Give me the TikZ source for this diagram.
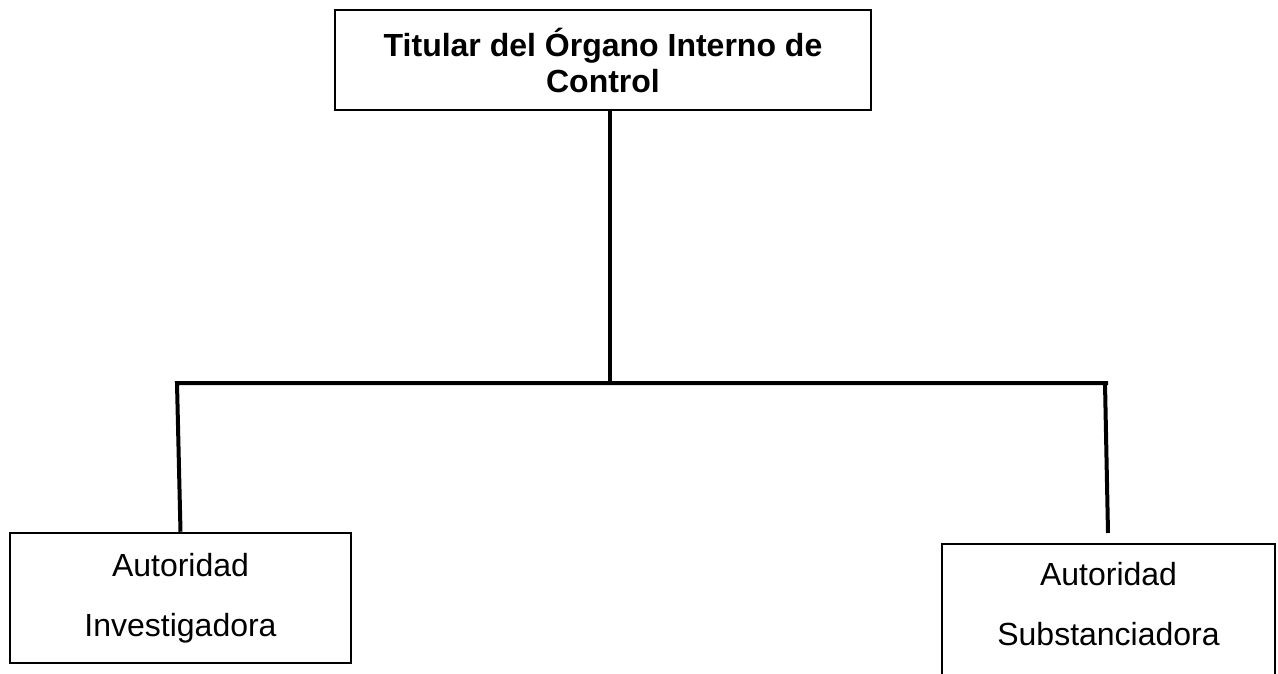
\documentclass[tikz,border=0pt]{standalone}
\usepackage{fontspec}
\setmainfont{Liberation Sans}

\begin{document}
\begin{tikzpicture}[x = 0.75pt, y = -0.75pt]
	\tikzstyle{titleStyle} = [draw, line width = 1.9pt, minimum width = 402pt, minimum height = 75pt, inner sep = 0pt, align = center, font = \bfseries\fontsize{24}{27}\selectfont]
	\tikzstyle{unitStyle} = [draw, inner xsep = 0pt, align = center, font = \fontsize{24}{45}\selectfont]
	\tikzstyle{linkStyle} = [line width = 3pt]
	\useasboundingbox (0, 0) rectangle (1278, 674);
	\clip (0, 0) rectangle (1278, 674);
	\node[titleStyle] (titular) at (603, 60) {Titular del Órgano Interno de\\Control};
	\node[unitStyle, line width = 1.9pt, minimum width = 255.75pt, minimum height = 97.5pt, inner ysep = 0pt] (investigadora) at (180.5, 598) {Autoridad\\Investigadora};
	\node[unitStyle, line width = 1.5pt, minimum width = 249.75pt, inner ysep = 14pt, anchor = north] (substanciadora) at (1108.5, 543) {Autoridad\\Substanciadora\rule[-30pt]{0pt}{0pt}};
	\coordinate (barL) at (177, 383);
	\coordinate (barR) at (1108, 383);
	\coordinate (legR) at (1105, 383);
	\coordinate (footR) at (1108, 533);
	\draw[linkStyle] ([xshift = 5.25pt]titular.south) -- ([xshift = 5.25pt]titular.south |- barL);
	\draw[linkStyle] (investigadora.north) -- (barL) -- (barR);
	\draw[linkStyle] (legR) -- (footR);
\end{tikzpicture}
\end{document}
